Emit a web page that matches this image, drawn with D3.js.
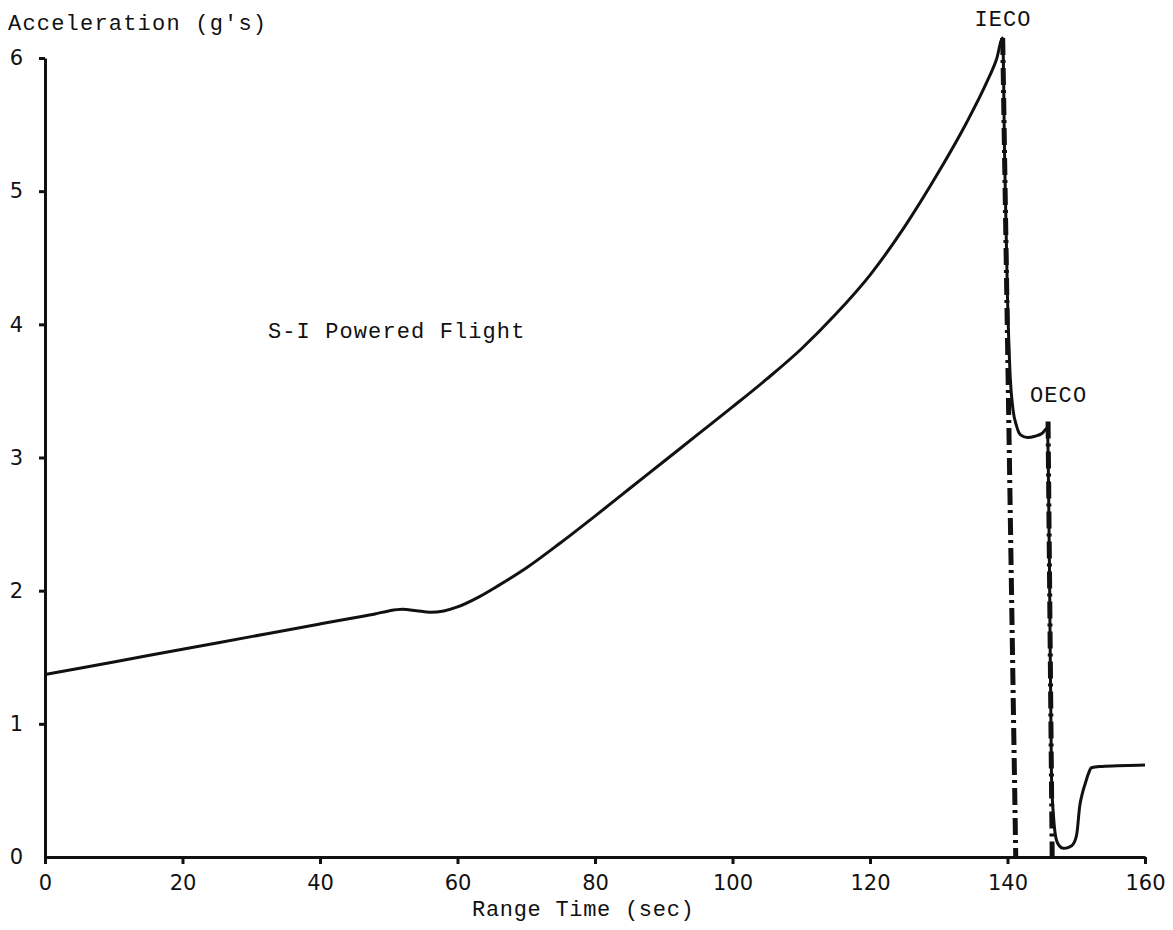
<!DOCTYPE html>
<html>
<head>
<meta charset="utf-8">
<script src="https://cdn.jsdelivr.net/npm/d3@7"></script>
<style>
  html, body { margin: 0; padding: 0; background: #fff; }
  svg { display: block; }
  .mono { font-family: "Liberation Mono", "DejaVu Sans Mono", monospace; fill: #111; }
  .tick text { font-family: "DejaVu Sans", sans-serif; fill: #111; }
</style>
</head>
<body>
<svg id="chart" width="1173" height="930"></svg>
<script>
// ---- data ----
const xTicks = [0, 20, 40, 60, 80, 100, 120, 140, 160];
const yTicks = [0, 1, 2, 3, 4, 5, 6];

// S-I powered flight acceleration (solid curve): time (sec)
const accelTime = [0, 10, 20, 30, 40, 45, 48, 50, 52, 54, 56, 58, 60, 63, 66, 70, 75, 80, 85, 90, 95, 100, 105, 110, 115, 120, 125, 130, 134, 137, 138.4, 139.3,
  139.6, 140.0, 140.4, 140.8, 141.3, 141.9, 142.9, 144.0, 145.0, 145.8,
  146.1, 146.4, 146.7, 147.1, 147.6, 148.1, 149.0, 149.6, 150.1, 150.5, 150.9, 151.3, 151.8, 152.2, 153.4, 156, 160];
// acceleration (g's)
const accelG = [1.37, 1.465, 1.56, 1.655, 1.75, 1.797, 1.825, 1.848, 1.86, 1.85, 1.838, 1.848, 1.878, 1.95, 2.04, 2.17, 2.36, 2.56, 2.765, 2.97, 3.175, 3.38, 3.59, 3.815, 4.075, 4.37, 4.73, 5.145, 5.51, 5.82, 5.99, 6.15,
  5.2, 4.2, 3.6, 3.36, 3.24, 3.17, 3.15, 3.16, 3.18, 3.22,
  2.2, 0.6, 0.3, 0.13, 0.08, 0.065, 0.075, 0.10, 0.18, 0.38, 0.48, 0.55, 0.63, 0.67, 0.68, 0.685, 0.69];

// cutoff markers (dash-dot lines)
const ieco = { label: "IECO", time: [139.3, 141.2], g: [6.15, 0] };
const oeco = { label: "OECO", time: [145.9, 146.5], g: [3.27, 0] };

const xLabel = "Range Time (sec)";
const yLabel = "Acceleration (g's)";
const phaseLabel = "S-I Powered Flight";

// ---- drawing ----
const svg = d3.select("#chart");
const x = d3.scaleLinear().domain([0, 160]).range([45, 1145]);
const y = d3.scaleLinear().domain([0, 6]).range([857, 58]);

// axes
const xAxis = d3.axisBottom(x).tickValues(xTicks).tickFormat(d3.format("d"))
  .tickSize(7).tickSizeOuter(0).tickPadding(11);
const yAxis = d3.axisLeft(y).tickValues(yTicks).tickFormat(d3.format("d"))
  .tickSize(6).tickSizeOuter(0).tickPadding(16);

const gx = svg.append("g").attr("transform", `translate(0,${y(0)})`).call(xAxis);
const gy = svg.append("g").attr("transform", `translate(${x(0)},0)`).call(yAxis);

[gx, gy].forEach(g => {
  g.select(".domain").attr("stroke", "#111").attr("stroke-width", 3);
  g.selectAll(".tick line").attr("stroke", "#111").attr("stroke-width", 3);
  g.selectAll(".tick text").attr("font-size", 21);
});
gx.selectAll(".tick text").attr("dy", "0.71em");
gy.selectAll(".tick").filter(d => d === 0).select("line").remove();

// solid acceleration curve
const pts = accelTime.map((t, i) => [t, accelG[i]]);
const line = d3.line().x(d => x(d[0])).y(d => y(d[1])).curve(d3.curveMonotoneX);
svg.append("path")
  .datum(pts)
  .attr("d", line)
  .attr("fill", "none")
  .attr("stroke", "#111")
  .attr("stroke-width", 3)
  .attr("stroke-linejoin", "round");

// dash-dot cutoff lines
const straight = d3.line().x(d => x(d[0])).y(d => y(d[1]));
[ieco, oeco].forEach(m => {
  svg.append("path")
    .datum(m.time.map((t, i) => [t, m.g[i]]))
    .attr("d", straight)
    .attr("fill", "none")
    .attr("stroke", "#111")
    .attr("stroke-width", 5)
    .attr("stroke-dasharray", "17,5,3,5");
});

// texts
svg.append("text").attr("class", "mono").attr("x", 8).attr("y", 30)
  .attr("font-size", 22).attr("letter-spacing", 1.2).text(yLabel);
svg.append("text").attr("class", "mono").attr("x", 472).attr("y", 916)
  .attr("font-size", 22).attr("letter-spacing", 0.7).text(xLabel);
svg.append("text").attr("class", "mono").attr("x", 268).attr("y", 338)
  .attr("font-size", 22).attr("letter-spacing", 1.1).text(phaseLabel);
svg.append("text").attr("class", "mono").attr("x", 1003).attr("y", 26)
  .attr("text-anchor", "middle").attr("font-size", 22).attr("letter-spacing", 1.1).text(ieco.label);
svg.append("text").attr("class", "mono").attr("x", 1030).attr("y", 402)
  .attr("font-size", 22).attr("letter-spacing", 1.1).text(oeco.label);
</script>
</body>
</html>
